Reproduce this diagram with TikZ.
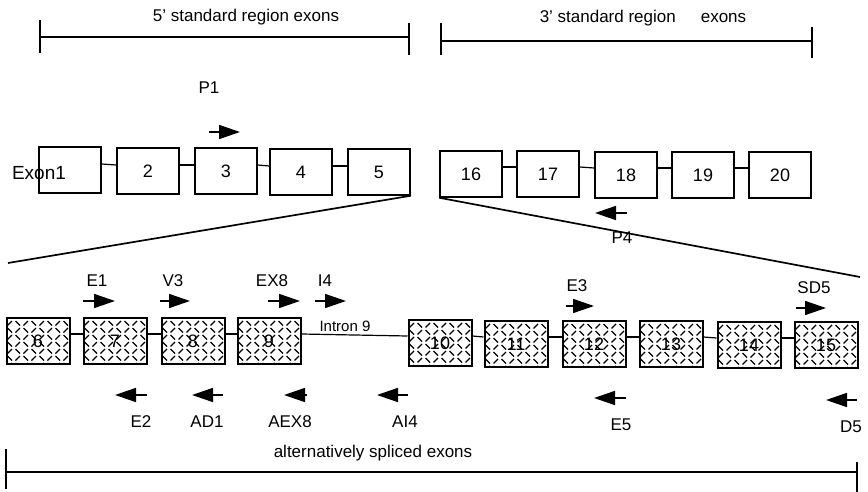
\documentclass[tikz,border=0pt]{standalone}
\usepackage{fontspec}
\setmainfont{Liberation Sans}
\usetikzlibrary{arrows.meta,calc}
\tikzset{
  plainbox/.style={draw, line width=1.5pt, minimum width=62pt, minimum height=46pt, inner sep=0pt, font=\fontsize{18}{21}\selectfont},
  hatched/.style={draw, line width=2pt, minimum width=63pt, minimum height=46pt, inner sep=0pt, font=\fontsize{18}{21}\selectfont,
    path picture={
      \foreach \i in {0,...,8}{\foreach \j in {0,...,6}{
        \pgfmathtruncatemacro\pp{mod(\i+\j,2)}
        \ifnum\pp=0
          \draw[line width=1.3pt] ($(path picture bounding box.north west)+(\i*8pt+1pt,-\j*7pt-7.5pt)$) -- ++(4.5pt,4.5pt);
        \else
          \draw[line width=1.3pt] ($(path picture bounding box.north west)+(\i*8pt+1pt,-\j*7pt-3pt)$) -- ++(4.5pt,-4.5pt);
        \fi
      }}}},
  link/.style={line width=1.2pt},
  bracket/.style={line width=1.3pt},
  primer/.style={line width=1.6pt, -{Triangle[length=21pt,width=14pt]}},
  lbl/.style={inner sep=0pt}
}
\begin{document}
\begin{tikzpicture}[x=1pt,y=-1pt, font=\fontsize{17}{20}\selectfont]
\useasboundingbox (0,0) rectangle (868,492);
% brackets
\draw[bracket] (40,37) -- (409,37);
\draw[bracket] (40,20) -- (40,53);
\draw[bracket] (409,23) -- (409,55);
\node[lbl] (t5) at (246,17) {5' standard region exons};
\draw[bracket] (441,41) -- (812,41);
\draw[bracket] (441,23) -- (441,55);
\draw[bracket] (812,27) -- (812,58);
\node[lbl] (t3) at (643,18) {3' standard region\hspace{25pt}exons};
% top exons 5'
\node[plainbox] (e1) at (70,170) {};
\node[plainbox] (e2) at (148,171) {2};
\node[plainbox] (e3) at (226,171) {3};
\node[plainbox] (e4) at (301,172) {4};
\node[plainbox] (e5) at (379,172) {5};
\node[lbl, font=\fontsize{19}{22}\selectfont] (ex1) at (39,173) {Exon1};
\foreach \a/\b in {e1/e2,e2/e3,e3/e4,e4/e5}
  \draw[link] ([yshift=6pt]\a.east) -- ([yshift=6pt]\b.west);
% top exons 3'
\node[plainbox] (e16) at (471,174) {16};
\node[plainbox] (e17) at (548,174) {17};
\node[plainbox] (e18) at (626,175) {18};
\node[plainbox] (e19) at (703,175) {19};
\node[plainbox] (e20) at (780,175) {20};
\foreach \a/\b in {e16/e17,e17/e18,e18/e19,e19/e20}
  \draw[link] ([yshift=7pt]\a.east) -- ([yshift=7pt]\b.west);
% P1 and P4
\node[lbl] (p1) at (209,88) {P1};
\coordinate (p1a) at (209,132); \coordinate (p1b) at (240,132);
\draw[primer] (p1a) -- (p1b);
\coordinate (p4a) at (627,213); \coordinate (p4b) at (595,213);
\draw[primer] (p4a) -- (p4b);
% diagonals
\coordinate (dl) at (8,263);
\coordinate (dr) at (860,277);
\draw[line width=1.7pt] (e5.south east) -- (dl);
\draw[line width=1.7pt] (e16.south west) -- (dr);
\node[lbl] (p4) at (622,238) {P4};
% alternatively spliced exons
\node[hatched] (v6) at (38,341) {6};
\node[hatched] (v7) at (115,341) {7};
\node[hatched] (v8) at (193,341) {8};
\node[hatched] (v9) at (269,341) {9};
\node[hatched] (v10) at (440,343) {10};
\node[hatched] (v11) at (516,344) {11};
\node[hatched] (v12) at (594,344) {12};
\node[hatched] (v13) at (671,344) {13};
\node[hatched] (v14) at (749,345) {14};
\node[hatched] (v15) at (826,345) {15};
\foreach \a/\b in {v6/v7,v7/v8,v8/v9,v9/v10,v10/v11,v11/v12,v12/v13,v13/v14,v14/v15}
  \draw[link] ([yshift=7pt]\a.east) -- ([yshift=7pt]\b.west);
\node[lbl, font=\fontsize{15}{18}\selectfont] (in9) at (345,326) {Intron 9};
% forward primers
\foreach \n/\xa/\xb/\yy/\lx in {E1/83/115/301/97, V3/160/190/301/173, EX8/268/300/301/272, I4/315/346/301/325, E3/566/594/306/577, SD5/796/826/308/814}{
  \coordinate (\n a) at (\xa,\yy); \coordinate (\n b) at (\xb,\yy);
  \draw[primer] (\n a) -- (\n b);
  \node[lbl] (\n l) at (\lx,\yy-20) {\n};
}
% reverse primers
\foreach \n/\xa/\xb/\yy/\lx in {E2/147/115/395/141, AD1/223/192/395/207, AEX8/307/284/395/290, AI4/408/377/395/405, E5/626/594/398/621, D5/857/826/400/851}{
  \coordinate (\n a) at (\xa,\yy); \coordinate (\n b) at (\xb,\yy);
  \draw[primer] (\n a) -- (\n b);
  \node[lbl] (\n l) at (\lx,\yy+27) {\n};
}
% bottom bracket
\draw[bracket] (6,472) -- (857,472);
\draw[bracket] (6,449) -- (6,489);
\draw[bracket] (857,462) -- (857,492);
\node[lbl] (alt) at (373,453) {alternatively spliced exons};
\end{tikzpicture}
\end{document}
